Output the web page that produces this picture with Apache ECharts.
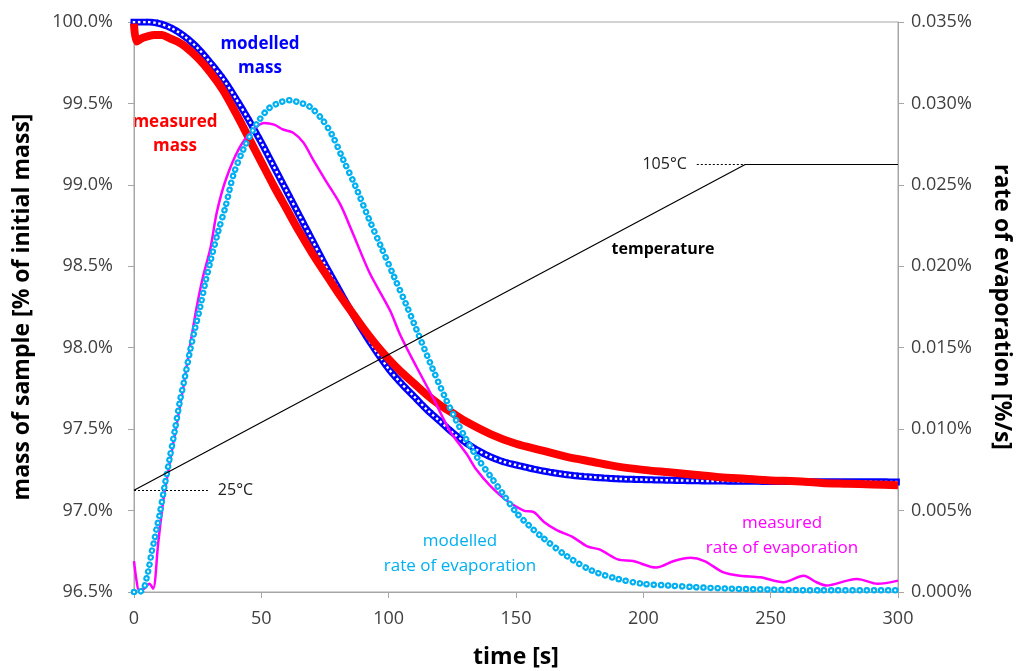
<!DOCTYPE html>
<html>
<head>
<meta charset="utf-8">
<script src="https://cdn.jsdelivr.net/npm/echarts@6/dist/echarts.min.js"></script>
<style>
html, body { margin: 0; padding: 0; background: #fff; }
#chart { width: 1025px; height: 671px; }
</style>
</head>
<body>
<div id="chart"></div>
<script>
// modelled mass, % of initial mass
var modelMassT = [0,5,10,15,20,25,30,35,40,45,50,55,60,65,70,75,80,85,90,95,100,105,110,115,120,125,130,135,140,145,150,160,170,180,190,200,220,240,260,280,300]
var modelMassV = [100.00,100.00,99.99,99.96,99.91,99.84,99.75,99.65,99.53,99.40,99.26,99.11,98.96,98.81,98.66,98.51,98.37,98.23,98.10,97.98,97.87,97.78,97.70,97.62,97.55,97.48,97.42,97.37,97.33,97.30,97.28,97.245,97.22,97.205,97.195,97.19,97.183,97.18,97.178,97.177,97.176]

// measured mass, % of initial mass
var measMassT = [0,1,3,5,8,11,14,17,20,25,30,35,40,45,50,55,60,65,70,75,80,85,90,95,100,105,110,115,120,125,130,140,150,160,170,180,190,200,210,220,230,240,250,260,270,280,290,300]
var measMassV = [99.99,99.88,99.90,99.91,99.92,99.92,99.90,99.88,99.85,99.78,99.69,99.58,99.44,99.29,99.14,98.99,98.85,98.71,98.58,98.46,98.34,98.23,98.12,98.02,97.93,97.85,97.78,97.71,97.65,97.60,97.55,97.47,97.41,97.37,97.33,97.30,97.27,97.25,97.235,97.22,97.205,97.195,97.185,97.18,97.17,97.165,97.16,97.155]

// modelled rate of evaporation, %/s
var modelRateT = [0,2,4,5,6,7,8,9,10,12,14,16,18,20,22,24,26,28,30,33,36,39,43,48,53,58,61,64,69,74,78,82,87,92,97,102,107,112,117,122,126,130,135,140,145,150,155,160,170,180,190,200,210,220,235,250,270,300]
var modelRateV = [0,0,0.0003,0.0009,0.0016,0.0025,0.0032,0.0040,0.0047,0.0065,0.0082,0.0099,0.0117,0.0132,0.0148,0.0162,0.0175,0.0190,0.0203,0.0221,0.0237,0.0256,0.0272,0.0287,0.0297,0.0301,0.0302,0.0301,0.0298,0.0290,0.0280,0.0266,0.0249,0.0230,0.0212,0.0194,0.0176,0.0157,0.0138,0.0120,0.0107,0.0095,0.0082,0.0071,0.0060,0.0049,0.0041,0.0034,0.0022,0.0013,0.0008,0.0005,0.0004,0.0003,0.0002,0.00015,0.0001,0.0001]

// measured rate of evaporation, %/s
var measRateT = [0,1,2,4,6,7.5,9.5,11.5,14,17,19.5,22,24.5,27,30,32.5,36,41.5,47,51,55,58.5,62.5,66.5,70.5,75.5,81,86,92.5,100.5,104.5,111,117.5,124,130.5,134.5,140,146.5,153,157,161,166,172,178,183,190,196,205,212,218.5,224,231.5,238,246,255,263,268,272,280,284,292,300]
var measRateV = [0.0019,0.0007,0.0001,0.0002,0.0005,0.0002,0.0030,0.0056,0.0079,0.0105,0.0127,0.0151,0.0174,0.0193,0.0211,0.0233,0.0253,0.0273,0.0284,0.0288,0.0287,0.0284,0.0282,0.0276,0.0265,0.0252,0.0238,0.0220,0.0196,0.0173,0.0158,0.0138,0.0119,0.0099,0.0085,0.0075,0.0065,0.0056,0.0050,0.0049,0.0043,0.0038,0.0034,0.0028,0.0026,0.0020,0.0019,0.0015,0.0019,0.0021,0.0019,0.0012,0.0010,0.0009,0.0006,0.0010,0.0006,0.0004,0.0007,0.0008,0.0005,0.0007]

// temperature programme, °C
var tempT = [0, 240, 300]
var tempV = [25, 105, 105]

function pairs(t, v) {
    return t.map(function (x, i) { return [x, v[i]] })
}

var tickFont = { fontFamily: 'Open Sans', fontSize: 18, color: '#404040' }
var nameFont = { fontFamily: 'Open Sans', fontSize: 23, fontWeight: 'bold', color: '#000' }
var axisGray = '#a6a6a6'

var chart = echarts.init(document.getElementById('chart'))
var option = {
    animation: false,
    grid: { left: 134, right: 127, top: 22, bottom: 79, outerBoundsMode: 'none', show: true, borderColor: axisGray, borderWidth: 1 },
    xAxis: {
        type: 'value', min: 0, max: 300, interval: 50,
        name: 'time [s]', nameLocation: 'middle', nameGap: 54, nameTextStyle: nameFont,
        axisLine: { lineStyle: { color: axisGray } },
        axisTick: { show: true, length: 6, lineStyle: { color: axisGray } },
        axisLabel: Object.assign({ margin: 18 }, tickFont),
        splitLine: { show: false }
    },
    yAxis: [
        {
            type: 'value', min: 96.5, max: 100, interval: 0.5, position: 'left',
            name: 'mass of sample [% of initial mass]', nameLocation: 'middle', nameGap: 100, nameTextStyle: nameFont,
            axisLine: { show: true, lineStyle: { color: axisGray } },
            axisTick: { show: true, length: 6, lineStyle: { color: axisGray } },
            axisLabel: Object.assign({ margin: 21, formatter: function (v) { return v.toFixed(1) + '%' } }, tickFont),
            splitLine: { show: false }
        },
        {
            type: 'value', min: 0, max: 0.035, interval: 0.005, position: 'right',
            name: 'rate of evaporation [%/s]', nameLocation: 'middle', nameGap: 92, nameRotate: -90, nameTextStyle: nameFont,
            axisLine: { show: true, lineStyle: { color: axisGray } },
            axisTick: { show: true, length: 6, lineStyle: { color: axisGray } },
            axisLabel: Object.assign({ margin: 13, formatter: function (v) { return v.toFixed(3) + '%' } }, tickFont),
            splitLine: { show: false }
        },
        { type: 'value', min: 0, max: 140, show: false }
    ],
    series: [
        {
            name: 'modelled mass', type: 'line', yAxisIndex: 0, smooth: 0.3, showSymbol: false, z: 2,
            data: pairs(modelMassT, modelMassV),
            lineStyle: { color: '#0000ff', width: 7, type: [0.1, 5], cap: 'square' }
        },
        {
            name: 'modelled mass inner', type: 'line', yAxisIndex: 0, smooth: 0.3, showSymbol: false, z: 2,
            data: pairs(modelMassT, modelMassV),
            lineStyle: { color: '#ffffff', width: 2.4, type: [0.1, 5], cap: 'square' }
        },
        {
            name: 'measured mass', type: 'line', yAxisIndex: 0, smooth: 0.3, showSymbol: false, z: 3,
            data: pairs(measMassT, measMassV),
            lineStyle: { color: '#ff0000', width: 8 }
        },
        {
            name: 'measured rate', type: 'line', yAxisIndex: 1, smooth: 0.3, showSymbol: false, z: 4,
            data: pairs(measRateT, measRateV),
            lineStyle: { color: '#ff00ff', width: 2.5 }
        },
        {
            name: 'modelled rate', type: 'line', yAxisIndex: 1, smooth: 0.3, showSymbol: false, z: 5,
            data: pairs(modelRateT, modelRateV),
            lineStyle: { color: '#00b0f0', width: 6.5, type: [0.1, 7], cap: 'round' }
        },
        {
            name: 'modelled rate inner', type: 'line', yAxisIndex: 1, smooth: 0.3, showSymbol: false, z: 5,
            data: pairs(modelRateT, modelRateV),
            lineStyle: { color: '#ffffff', width: 2.2, type: [0.1, 7], cap: 'round' }
        },
        {
            name: 'temperature', type: 'line', yAxisIndex: 2, showSymbol: false, z: 6,
            data: pairs(tempT, tempV),
            lineStyle: { color: '#000', width: 1.2 },
            markLine: {
                silent: true, symbol: 'none',
                lineStyle: { color: '#000', type: [2, 2], width: 1.2 },
                label: { fontFamily: 'Open Sans', fontSize: 16, color: '#202020', distance: 10 },
                data: [
                    [{ coord: [tempT[0], tempV[0]], label: { position: 'end', formatter: tempV[0] + '°C' } }, { coord: [29, tempV[0]] }],
                    [{ coord: [221, tempV[1]], label: { position: 'start', formatter: tempV[1] + '°C' } }, { coord: [tempT[1], tempV[1]] }]
                ]
            }
        }
    ],
    graphic: [
        { type: 'text', x: 260, y: 56, style: { text: 'modelled\nmass', fill: '#0000ff', font: 'bold 17px "Open Sans"', lineHeight: 24, align: 'center', verticalAlign: 'middle', textAlign: 'center', textVerticalAlign: 'middle' } },
        { type: 'text', x: 175, y: 134, style: { text: 'measured\nmass', fill: '#ff0000', font: 'bold 17px "Open Sans"', lineHeight: 24, align: 'center', verticalAlign: 'middle', textAlign: 'center', textVerticalAlign: 'middle' } },
        { type: 'text', x: 663, y: 249, style: { text: 'temperature', fill: '#000', font: 'bold 16px "Open Sans"', align: 'center', verticalAlign: 'middle', textAlign: 'center', textVerticalAlign: 'middle' } },
        { type: 'text', x: 460, y: 554, style: { text: 'modelled\nrate of evaporation', fill: '#00b0f0', font: '17px "Open Sans"', lineHeight: 25, align: 'center', verticalAlign: 'middle', textAlign: 'center', textVerticalAlign: 'middle' } },
        { type: 'text', x: 782, y: 536, style: { text: 'measured\nrate of evaporation', fill: '#ff00ff', font: '17px "Open Sans"', lineHeight: 25, align: 'center', verticalAlign: 'middle', textAlign: 'center', textVerticalAlign: 'middle' } }
    ]
}
chart.setOption(option)
</script>
</body>
</html>
